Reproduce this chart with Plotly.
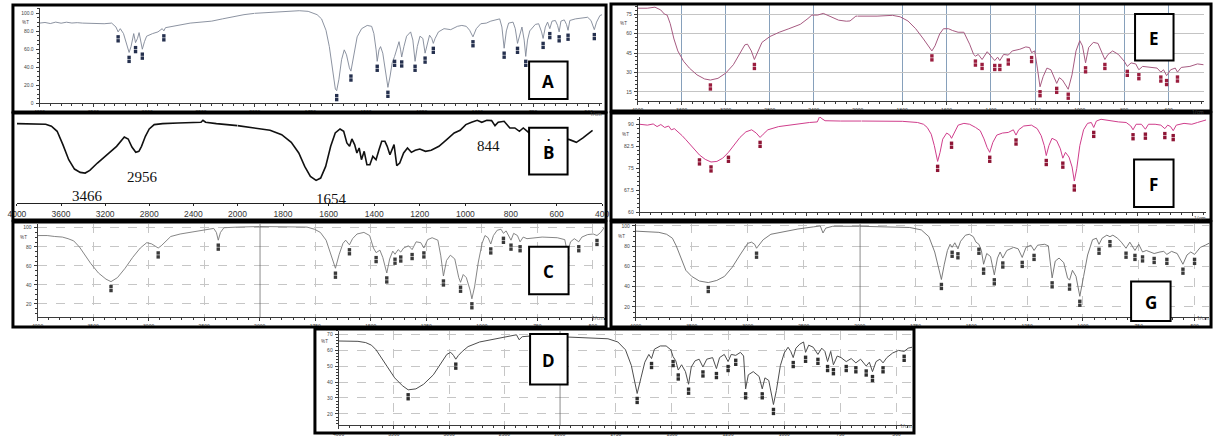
import numpy as np
import plotly.graph_objects as go

W, H = 1221, 438

# ---------------- data (wavenumber cm-1, transmittance) ----------------
A_wn = [4000,3950,3900,3850,3800,3750,3700,3650,3600,3400,3330,3290,3270,3250,3220,3180,3168,3150,3125,3108,3090,3075,3060,3045,3025,3005,2950,2900,2860,2845,2830,2800,2700,2600,2500,2400,2300,2200,2100,2000,1900,1800,1760,1720,1700,1680,1665,1650,1638,1632,1622,1610,1598,1588,1575,1568,1555,1540,1520,1495,1475,1465,1455,1450,1442,1435,1425,1412,1402,1392,1383,1372,1360,1352,1345,1340,1330,1318,1300,1290,1280,1270,1258,1245,1235,1225,1215,1205,1198,1190,1175,1150,1120,1090,1070,1050,1035,1020,1005,985,960,940,915,900,890,880,870,860,840,830,820,810,800,790,783,775,765,740,725,712,705,695,685,675,665,650,640,633,625,610,600,593,585,560,530,505,490,475,465,450,440]
A_T = [89.1,89.8,88.6,90.2,89.0,90.1,89.2,89.6,89.1,88.4,89.1,84.7,79.3,82.9,77.4,59.3,56.4,62.9,77.4,67.3,72.0,78.5,70.2,60.0,68.4,74.5,77.4,79.3,82.9,80.4,84.0,84.7,87.6,89.1,90.2,91.3,93.8,96.4,98.5,100.0,101.8,102.9,102.2,98.5,93.8,81.1,62.9,37.5,15.6,13.8,26.5,48.4,59.3,53.8,39.3,35.6,55.6,73.8,82.9,86.5,85.5,77.4,59.3,46.5,59.3,62.9,55.6,33.8,17.5,30.2,44.7,52.0,62.9,68.4,59.3,51.3,62.9,74.5,79.3,70.2,46.5,62.9,74.5,72.0,55.6,66.5,75.6,72.0,66.5,72.0,79.3,82.9,81.8,85.5,86.5,85.5,81.1,73.8,82.9,88.4,89.1,91.3,92.7,93.8,84.7,61.1,80.4,89.1,90.2,82.9,66.5,77.4,84.7,70.2,52.0,70.2,80.4,87.6,88.4,79.3,72.0,84.7,90.2,82.9,91.3,92.0,86.5,79.3,91.3,92.7,87.6,81.1,92.0,93.8,94.9,95.6,92.0,81.8,90.2,97.5,98.5]
A_peaks = [3270,3168,3108,3045,2845,1632,1568,1450,1402,1372,1340,1280,1235,1198,1020,880,820,783,705,675,633,593,475]

E_wn = [4000,3913,3843,3791,3757,3732,3704,3670,3635,3583,3530,3461,3391,3339,3270,3200,3130,3061,3026,3002,2967,2939,2911,2870,2800,2713,2626,2522,2452,2417,2365,2313,2243,2174,2104,2070,2017,2000,1913,1843,1809,1774,1739,1704,1678,1666,1652,1631,1614,1591,1574,1548,1522,1496,1478,1470,1457,1440,1417,1400,1383,1370,1360,1343,1322,1304,1270,1243,1226,1217,1203,1191,1179,1165,1148,1130,1113,1104,1092,1078,1052,1035,1017,1000,988,974,960,939,918,896,887,873,852,826,800,786,769,748,734,717,678,652,635,623,609,591,570,560,543,504,470,443]
E_T = [79.5,79.5,80.3,78.2,75.0,74.2,67.6,55.8,46.6,38.7,33.4,28.2,25.0,24.2,25.5,29.5,36.0,46.6,51.3,51.8,46.6,40.0,45.3,53.2,57.6,61.0,63.7,67.1,71.6,74.2,74.2,75.5,72.9,70.3,69.5,69.7,73.4,73.4,73.4,74.0,72.9,69.7,63.7,55.8,49.2,46.6,50.5,59.7,63.7,63.7,62.4,61.0,61.0,51.8,43.9,42.6,43.9,40.0,46.0,42.6,39.2,41.8,39.2,43.9,43.4,46.6,47.9,49.7,49.2,45.3,46.6,33.4,19.0,26.8,33.4,32.1,25.5,21.6,26.0,24.2,17.1,28.2,46.6,54.5,50.5,37.4,49.2,53.2,52.4,43.9,40.0,43.9,46.6,43.9,38.7,34.7,37.4,36.6,32.1,34.7,33.9,33.4,30.3,32.1,27.6,32.1,33.4,30.3,33.9,34.7,36.6,36.0]
E_peaks = [3339,2939,1666,1470,1440,1383,1360,1322,1217,1179,1104,1052,974,887,786,734,635,609,560]

B_wn = [4000,3861,3739,3687,3635,3583,3530,3478,3426,3381,3339,3270,3183,3096,3026,2991,2957,2922,2894,2870,2835,2800,2755,2678,2539,2400,2331,2313,2289,2191,2000,1924,1857,1806,1764,1731,1705,1680,1655,1635,1613,1591,1571,1550,1534,1520,1508,1498,1486,1476,1466,1456,1444,1432,1419,1406,1392,1379,1367,1353,1343,1331,1323,1313,1301,1288,1271,1254,1237,1220,1200,1175,1150,1116,1082,1049,1023,998,973,948,928,906,885,870,856,830,805,783,763,746,720,543,513,484,442]
B_T = [95.2,95.2,94.4,92.0,86.0,70.0,52.0,40.8,36.8,36.0,39.2,48.0,58.0,68.0,79.2,76.8,67.2,60.8,62.0,68.0,80.0,88.8,94.0,95.2,96.0,96.8,96.8,99.2,96.8,95.2,92.8,90.0,87.2,82.0,72.8,60.0,44.0,32.0,27.2,30.0,44.0,68.0,84.0,88.8,86.0,72.0,68.0,76.8,70.0,60.0,66.0,52.0,62.0,46.0,46.0,56.0,52.0,64.0,74.0,74.0,68.0,58.0,64.0,70.0,44.8,48.0,60.0,66.0,60.8,63.2,64.8,62.0,63.2,68.0,76.0,84.0,87.2,94.0,96.8,99.2,96.8,99.2,98.8,92.8,96.8,98.0,90.0,90.0,86.0,90.0,84.0,76.0,72.8,78.0,87.2]
B_labels = ["3466", "2956", "1654", "844"]

F_wn = [4000,3930,3878,3843,3809,3774,3739,3715,3687,3652,3617,3583,3548,3513,3461,3409,3357,3304,3252,3200,3148,3096,3043,2991,2950,2915,2887,2845,2748,2609,2470,2400,2379,2358,2330,2191,2000,1921,1816,1747,1720,1703,1685,1671,1656,1645,1633,1615,1601,1593,1580,1563,1537,1511,1484,1463,1446,1432,1420,1406,1388,1362,1336,1313,1301,1289,1266,1231,1205,1187,1173,1164,1152,1138,1117,1100,1089,1077,1061,1047,1037,1026,1012,995,977,960,949,937,916,872,837,802,781,771,757,733,715,701,671,645,627,614,601,589,575,540,505,479,462,439]
F_T = [90.0,89.7,90.1,89.2,89.9,88.9,89.4,88.1,88.5,87.4,86.1,84.7,83.3,81.6,79.5,78.0,77.1,77.3,78.4,80.4,82.9,85.5,87.4,88.1,87.0,85.5,86.6,88.1,89.2,90.0,90.6,90.8,92.6,91.9,91.2,91.1,91.1,91.1,91.0,90.6,90.0,88.9,86.6,82.7,77.3,80.4,84.9,87.0,86.3,85.2,87.2,89.7,90.3,90.0,88.9,87.8,85.0,82.1,80.4,83.8,86.3,87.0,87.2,88.1,86.3,88.1,89.4,89.7,88.5,86.1,82.7,79.3,82.7,85.2,84.4,81.6,78.4,80.4,78.8,75.4,70.6,74.8,82.7,88.1,90.3,90.6,88.9,91.1,91.7,91.1,90.8,90.6,89.4,88.1,90.0,90.0,88.3,90.0,90.0,89.7,88.5,89.7,89.2,87.8,89.7,90.3,90.0,90.6,91.1,91.5]
F_peaks = [3461,3357,3200,2915,1656,1593,1420,1301,1164,1089,1037,949,771,715,627,589]

C_wn = [4000,3914,3846,3777,3726,3675,3623,3572,3521,3452,3384,3339,3281,3212,3144,3075,3017,2973,2938,2914,2887,2853,2801,2716,2579,2476,2414,2390,2373,2353,2322,2202,2000,1923,1787,1753,1727,1701,1676,1659,1642,1625,1613,1602,1596,1582,1562,1531,1505,1488,1476,1459,1446,1428,1415,1401,1391,1377,1365,1352,1330,1314,1296,1275,1261,1244,1224,1198,1185,1173,1159,1142,1122,1104,1096,1084,1070,1053,1045,1033,1016,999,986,972,960,948,931,914,903,891,879,869,857,840,828,814,797,729,661,627,615,601,584,564,550,524,499,482,465,450]
C_T = [91.8,91.8,90.8,90.2,88.5,86.2,79.7,70.5,62.3,52.4,45.9,43.3,47.5,57.4,68.8,78.7,84.3,83.0,80.3,78.7,81.0,85.2,90.8,93.4,96.1,98.4,99.3,95.1,86.9,95.1,100.0,100.7,101.3,101.3,100.7,98.4,95.1,86.9,70.5,57.4,72.1,83.6,86.9,84.3,82.0,88.5,93.4,95.1,91.8,78.7,73.8,76.4,68.8,52.4,67.2,75.4,72.1,77.0,74.4,78.7,81.0,77.0,85.2,84.3,78.7,87.5,89.5,86.9,70.5,49.2,65.6,71.1,67.2,47.5,42.6,50.8,47.5,34.4,25.2,37.7,63.9,83.6,91.8,89.5,82.9,91.8,97.4,98.4,94.1,96.7,91.8,86.9,94.1,91.8,85.2,90.2,88.5,90.2,89.5,87.5,73.8,85.2,88.5,85.2,90.2,92.8,93.4,91.8,95.1,100.0]
C_peaks = [3339,2914,2373,1659,1596,1476,1428,1391,1365,1314,1261,1173,1096,1045,960,903,869,828,615,564,482]

G_wn = [4000,3897,3793,3724,3672,3638,3603,3552,3500,3431,3352,3276,3207,3138,3069,3000,2966,2938,2921,2897,2862,2793,2690,2552,2414,2352,2328,2303,2241,2000,1914,1776,1724,1690,1664,1647,1634,1621,1607,1595,1586,1574,1560,1548,1526,1509,1491,1479,1466,1455,1445,1431,1414,1397,1383,1371,1359,1341,1310,1290,1272,1255,1233,1219,1203,1172,1155,1147,1138,1124,1107,1086,1069,1060,1047,1031,1014,997,979,957,940,928,914,893,879,866,845,828,807,790,767,750,733,716,698,681,655,638,624,603,578,552,534,517,500,474,452,431]
G_T = [94.9,94.6,93.7,91.8,87.9,80.4,69.8,56.2,50.2,45.6,44.1,46.2,50.2,59.2,71.3,82.8,84.0,81.9,78.0,81.9,86.4,91.8,94.0,97.0,99.1,100.0,93.1,97.9,99.7,99.7,99.4,98.5,96.1,89.4,74.3,59.2,47.1,62.2,75.8,81.9,78.9,83.4,77.4,84.9,90.9,91.8,89.4,84.0,81.9,75.8,62.2,72.8,69.8,51.7,68.3,74.3,68.3,75.8,78.9,77.4,68.9,78.9,81.0,75.8,81.0,81.9,80.4,65.3,48.7,65.3,68.3,63.8,48.7,46.5,56.2,50.2,30.5,50.2,71.3,86.4,87.9,81.9,87.9,90.9,89.4,90.9,87.9,84.0,78.0,84.0,75.8,81.9,74.3,75.8,74.3,72.8,74.3,74.9,71.9,74.9,72.8,62.2,71.3,74.3,71.9,78.9,81.0,83.4]
G_peaks = [3352,2921,1634,1586,1560,1466,1445,1397,1359,1272,1219,1138,1060,1014,928,879,807,767,733,681,624,552,500]

D_wn = [4000,3913,3825,3755,3703,3661,3615,3563,3493,3423,3371,3301,3231,3143,3073,3021,2986,2961,2940,2916,2881,2829,2724,2584,2444,2391,2367,2339,2234,2000,1905,1785,1741,1707,1681,1655,1638,1621,1603,1591,1578,1552,1526,1505,1495,1483,1472,1457,1440,1426,1414,1397,1379,1362,1345,1319,1302,1288,1267,1250,1236,1216,1195,1181,1172,1160,1138,1112,1098,1086,1069,1048,1035,1017,1000,983,971,960,948,931,914,905,891,871,850,833,819,807,793,781,764,747,724,702,681,660,635,621,607,591,574,560,543,517,491,466,448,431]
D_T = [65.7,65.7,65.5,64.7,63.1,60.2,55.3,49.4,42.6,37.7,35.1,35.7,38.6,44.5,51.4,57.3,58.6,56.7,54.3,56.7,59.2,62.2,65.1,67.1,69.0,69.6,66.5,68.4,69.0,68.4,68.0,67.1,65.1,60.2,50.4,32.8,42.6,52.4,57.3,54.7,60.6,62.6,62.6,60.2,55.9,53.3,47.5,50.8,46.5,38.6,49.4,53.3,54.3,49.4,54.3,55.3,48.4,55.3,57.3,52.8,57.3,56.7,58.6,56.3,35.7,44.5,46.5,43.5,35.7,42.6,41.0,25.9,34.7,50.4,58.2,61.8,59.2,55.3,61.2,63.7,65.1,58.6,63.1,61.8,57.3,61.2,59.2,52.8,59.2,50.8,56.3,55.3,52.8,54.7,52.0,54.3,50.0,52.4,46.5,52.8,54.3,52.0,55.3,58.2,59.8,59.2,61.2,61.8]
D_peaks = [3371,2940,1655,1591,1495,1472,1426,1362,1302,1250,1216,1172,1098,1048,960,905,850,807,781,724,681,635,607,560,466]

SHIM_HI = [4000, 3500, 3000, 2500]
SHIM_LO = [2000, 1750, 1500, 1250, 1000, 750, 500]
HI_400 = [4000, 3600, 3200, 2800, 2400]
LO_200 = [2000, 1800, 1600, 1400, 1200, 1000, 800, 600, 400]

# ---------------- layout of panels (pixel geometry & styles) ----------------
panels = [
    dict(key="A", wn=A_wn, T=A_T, peaks=A_peaks, frame=(4, 4, 605, 112), xpx=(31, 249, 601), lo_end=440,
         ypx=(7, 103), yr=(0, 106), hi_ticks=SHIM_HI, lo_ticks=SHIM_LO,
         yticks=[0, 20, 40, 60, 80, 100], yticktext=["0", "20.0", "40.0", "60.0", "80.0", "100.0"], pct=90,
         color="#7f8796", lw=0.9, pcolor="#25304e", grid=None, box=(527, 61, 566, 99), yminor=5, break_line=False),
    dict(key="E", wn=E_wn, T=E_T, peaks=E_peaks, frame=(610, 3, 1218, 111), xpx=(637, 860, 1211), lo_end=440,
         ypx=(4, 101), yr=(8, 82), hi_ticks=HI_400, lo_ticks=LO_200[:-1],
         yticks=[15, 30, 45, 60, 75], yticktext=["15", "30", "45", "60", "75"], pct=68,
         color="#a65a80", lw=1.0, pcolor="#9a1d3e", grid="blue", box=(1141, 13, 1180, 60), yminor=3, break_line=False),
    dict(key="B", wn=B_wn, T=B_T, peaks=[], frame=(4, 113, 605, 221), xpx=(8, 231.5, 601), lo_end=400,
         ypx=(118, 204), yr=(0, 102), hi_ticks=HI_400, lo_ticks=LO_200,
         yticks=[], yticktext=[], pct=None,
         color="#111111", lw=1.6, pcolor="#000", grid=None, box=(527, 128, 566, 175), yminor=None, break_line=False),
    dict(key="F", wn=F_wn, T=F_T, peaks=F_peaks, frame=(610, 113, 1218, 221), xpx=(639, 864, 1213), lo_end=440,
         ypx=(117, 213), yr=(60, 92.5), hi_ticks=SHIM_HI, lo_ticks=SHIM_LO,
         yticks=[60, 67.5, 75, 82.5, 90], yticktext=["60", "67.5", "75", "82.5", "90"], pct=86.5,
         color="#cf3d8b", lw=1.0, pcolor="#8e1535", grid=None, box=(1140, 160, 1180, 208), yminor=1.5, break_line=False),
    dict(key="C", wn=C_wn, T=C_T, peaks=C_peaks, frame=(4, 223, 605, 329), xpx=(29, 254, 603), lo_end=450,
         ypx=(225, 319), yr=(6, 104), hi_ticks=SHIM_HI, lo_ticks=SHIM_LO,
         yticks=[20, 40, 60, 80, 100], yticktext=["20", "40", "60", "80", "100"], pct=90,
         color="#787878", lw=0.9, pcolor="#3a3a3a", grid="dash", box=(527, 248, 567, 296), yminor=5, break_line=True),
    dict(key="G", wn=G_wn, T=G_T, peaks=G_peaks, frame=(610, 223, 1218, 329), xpx=(635, 862, 1216), lo_end=435,
         ypx=(225, 319), yr=(10, 102), hi_ticks=SHIM_HI, lo_ticks=SHIM_LO,
         yticks=[20, 40, 60, 80, 100], yticktext=["20", "40", "60", "80", "100"], pct=90,
         color="#6c6c6c", lw=0.9, pcolor="#3a3a3a", grid="dash", box=(1137, 283, 1177, 323), yminor=5, break_line=True),
    dict(key="D", wn=D_wn, T=D_T, peaks=D_peaks, frame=(310, 331, 917, 436), xpx=(334, 558, 915), lo_end=431,
         ypx=(333, 428), yr=(13, 72), hi_ticks=SHIM_HI, lo_ticks=SHIM_LO,
         yticks=[20, 30, 40, 50, 60, 70], yticktext=["20", "30", "40", "50", "60", "70"], pct=65.5,
         color="#4d4d4d", lw=1.0, pcolor="#2e2e2e", grid="dash", box=(528, 336, 566, 387), yminor=2, break_line=True),
]


def sfx(n):
    return "" if n == 1 else str(n)


def px(xp):
    return xp / W


def py(yp):
    return 1 - yp / H


fig = go.Figure()
layout = dict(width=W, height=H, margin=dict(l=0, r=0, t=0, b=0), paper_bgcolor="white",
              plot_bgcolor="white", showlegend=False, hovermode=False)
shapes, annotations = [], []

for i, p in enumerate(panels, start=1):
    hi_n, lo_n = 2 * i - 1, 2 * i
    xh, xl, yy = "x" + sfx(hi_n), "x" + sfx(lo_n), "y" + sfx(i)
    wn = np.array(p["wn"], float)
    T = np.array(p["T"], float)
    hi, lo = wn >= 2000, wn <= 2000
    line = dict(color=p["color"], width=p["lw"])
    fig.add_trace(go.Scatter(x=wn[hi], y=T[hi], mode="lines", line=line, xaxis=xh, yaxis=yy))
    fig.add_trace(go.Scatter(x=wn[lo], y=T[lo], mode="lines", line=line, xaxis=xl, yaxis=yy))

    ytop, ybot = p["ypx"]
    r0, r1 = p["yr"]
    upp = (r1 - r0) / (ybot - ytop)  # value units per pixel
    if p["peaks"]:
        pk = np.array(p["peaks"], float)
        pT = np.interp(pk, wn[::-1], T[::-1])
        for off, sz in ((5.0, 3.4), (9.0, 3.4)):
            for mask, xa in ((pk > 2000, xh), (pk <= 2000, xl)):
                if mask.any():
                    fig.add_trace(go.Scatter(x=pk[mask], y=pT[mask] - off * upp, mode="markers",
                                             marker=dict(symbol="square", size=sz, color=p["pcolor"],
                                                         line=dict(width=0)),
                                             xaxis=xa, yaxis=yy, cliponaxis=False))

    x0, x1, x2 = p["xpx"]
    ydom = [py(ybot), py(ytop)]
    is_b = p["key"] == "B"
    axc = "#222" if is_b else "#3a3a3a"
    tfont = dict(size=8.5 if is_b else 5, color="#333" if is_b else "#444", family="Liberation Sans")
    common = dict(showline=True, linecolor=axc, linewidth=1.2 if is_b else 0.9, ticks="outside",
                  ticklen=2 if is_b else 3, tickwidth=0.8, tickcolor=axc, tickfont=tfont,
                  zeroline=False, fixedrange=True, tickmode="array", ticklabelstandoff=1)
    if p["grid"] == "blue":
        xg = dict(showgrid=True, gridcolor="#86a0bb", gridwidth=1)
        yg = dict(showgrid=True, gridcolor="#c4c4c4", gridwidth=0.8)
    elif p["grid"] == "dash":
        xg = dict(showgrid=True, gridcolor="#c6c6c6", gridwidth=0.8, griddash="dash")
        yg = dict(showgrid=True, gridcolor="#c6c6c6", gridwidth=0.8, griddash="dash")
    else:
        xg = dict(showgrid=False)
        yg = dict(showgrid=False)
    minor_hi = None if is_b else dict(ticks="outside", ticklen=2, tickcolor=axc, tickmode="linear",
                                      tick0=0, dtick=100, showgrid=False)
    minor_lo = None if is_b else dict(ticks="outside", ticklen=2, tickcolor=axc, tickmode="linear",
                                      tick0=0, dtick=50, showgrid=False)
    ax_hi = dict(domain=[px(x0), px(x1)], range=[4000, 2000], anchor=yy, tickvals=p["hi_ticks"],
                 ticktext=[str(v) for v in p["hi_ticks"]], **common, **xg)
    ax_lo = dict(domain=[px(x1), px(x2)], range=[2000, p["lo_end"]], anchor=yy, tickvals=p["lo_ticks"],
                 ticktext=[str(v) for v in p["lo_ticks"]], **common, **xg)
    if minor_hi:
        ax_hi["minor"] = minor_hi
        ax_lo["minor"] = minor_lo
    layout["xaxis" + sfx(hi_n)] = ax_hi
    layout["xaxis" + sfx(lo_n)] = ax_lo
    if is_b:
        layout["yaxis" + sfx(i)] = dict(domain=ydom, range=list(p["yr"]), anchor=xh, visible=False,
                                        fixedrange=True)
    else:
        ya = dict(domain=ydom, range=list(p["yr"]), anchor=xh, tickvals=p["yticks"],
                  ticktext=p["yticktext"], **common, **yg)
        ya["minor"] = dict(ticks="outside", ticklen=2, tickcolor=axc, tickmode="linear", tick0=0,
                           dtick=p["yminor"], showgrid=False)
        layout["yaxis" + sfx(i)] = ya
        annotations.append(dict(text="%T", xref="paper", yref=yy, x=px(x0 - 9), y=p["pct"],
                                showarrow=False, font=dict(size=5, color="#444"), xanchor="right"))
        annotations.append(dict(text="1/cm", xref="paper", yref="paper", x=px(x2 + 2), y=py(ybot + 6),
                                showarrow=False, font=dict(size=5, color="#444"), xanchor="right"))

    if p["break_line"]:
        shapes.append(dict(type="line", xref=xl, yref=yy + " domain", x0=2000, x1=2000, y0=0, y1=1,
                           line=dict(color="#5a5a5a", width=1.4), layer="above"))

    fx0, fy0, fx1, fy1 = p["frame"]
    shapes.append(dict(type="rect", xref="paper", yref="paper", x0=px(fx0), x1=px(fx1), y0=py(fy1),
                       y1=py(fy0), line=dict(color="black", width=3), fillcolor="rgba(0,0,0,0)",
                       layer="above"))
    bx0, by0, bx1, by1 = p["box"]
    shapes.append(dict(type="rect", xref="paper", yref="paper", x0=px(bx0), x1=px(bx1), y0=py(by1),
                       y1=py(by0), line=dict(color="black", width=2), fillcolor="white", layer="above"))
    annotations.append(dict(text="<b>%s</b>" % p["key"], xref="paper", yref="paper",
                            x=px((bx0 + bx1) / 2), y=py((by0 + by1) / 2 + 1), showarrow=False,
                            font=dict(size=17, color="black", family="Open Sans"),
                            xanchor="center", yanchor="middle"))

# B peak labels (serif text on the spectrum)
b_label_px = [(80, 197), (135, 178), (327, 200), (486, 146)]
for txt, (lx, ly) in zip(B_labels, b_label_px):
    annotations.append(dict(text=txt, xref="paper", yref="paper", x=px(lx), y=py(ly), showarrow=False,
                            font=dict(size=15, color="#111", family="Liberation Serif"),
                            xanchor="center", yanchor="middle"))
annotations.append(dict(text="<b>.</b>", xref="paper", yref="paper", x=px(547), y=py(137),
                        showarrow=False, font=dict(size=12, color="black"), xanchor="center",
                        yanchor="middle"))

layout["shapes"] = shapes
layout["annotations"] = annotations
fig.update_layout(**layout)
fig.write_html("out.html", config={"displayModeBar": False},
               post_script="document.body.style.margin='0';document.body.style.overflow='hidden';")
